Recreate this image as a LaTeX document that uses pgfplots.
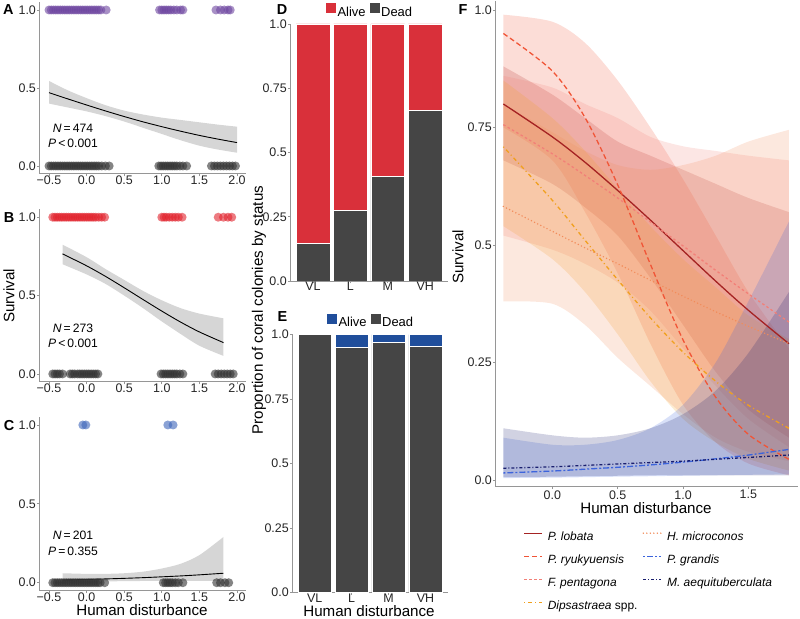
\documentclass[border=0pt]{standalone}
\usepackage{fontspec}
\setmainfont{Liberation Sans}
\usepackage{pgfplots}
\usepackage{pgfplotstable}
\pgfplotsset{compat=1.18}
\usepgfplotslibrary{fillbetween}

\definecolor{axgray}{RGB}{150,150,150}
\definecolor{ptgray}{RGB}{50,50,50}
\definecolor{purpA}{RGB}{110,70,160}
\definecolor{redB}{RGB}{225,35,45}
\definecolor{blueC}{RGB}{60,100,185}
\definecolor{aliveD}{RGB}{217,48,58}
\definecolor{aliveE}{RGB}{32,78,155}
\definecolor{deadC}{RGB}{69,69,69}
\definecolor{lobC}{RGB}{165,35,35}
\definecolor{ryuC}{RGB}{240,85,55}
\definecolor{penC}{RGB}{242,128,120}
\definecolor{dipC}{RGB}{240,160,30}
\definecolor{micC}{RGB}{242,140,90}
\definecolor{graC}{RGB}{60,100,220}
\definecolor{aeqC}{RGB}{25,30,110}

\newcommand{\tickfont}{\fontsize{12.5}{14}\selectfont}
\newcommand{\axtitle}{\fontsize{15.2}{17}\selectfont}
\newcommand{\letterfont}{\fontsize{14.5}{16}\selectfont\bfseries}
\newcommand{\statfont}{\fontsize{12.2}{14}\selectfont}
\tikzset{ttl/.style={font=\axtitle, inner sep=1bp}}

% fitted survival curves, panels A-C
\pgfplotstableread{
x     est    lo     hi
-0.5  0.470  0.400  0.545
-0.25 0.430  0.375  0.485
0     0.391  0.350  0.435
0.25  0.353  0.320  0.390
0.5   0.317  0.285  0.355
0.75  0.283  0.245  0.330
1.0   0.252  0.205  0.310
1.25  0.223  0.165  0.295
1.5   0.196  0.130  0.280
1.75  0.172  0.105  0.265
2.0   0.150  0.085  0.252
}\Atab
\pgfplotstableread{
x     est    lo     hi
-0.32 0.766  0.700  0.825
0     0.690  0.635  0.745
0.25  0.623  0.575  0.670
0.5   0.550  0.500  0.600
0.75  0.475  0.420  0.530
1.0   0.401  0.335  0.470
1.25  0.331  0.255  0.420
1.5   0.268  0.180  0.385
1.82  0.200  0.115  0.355
}\Btab
\pgfplotstableread{
x     est    lo     hi
-0.32 0.017  0.005  0.060
0     0.0205 0.007  0.056
0.25  0.024  0.008  0.056
0.5   0.0277 0.010  0.060
0.75  0.032  0.011  0.070
1.0   0.0373 0.012  0.090
1.25  0.043  0.012  0.120
1.5   0.0499 0.012  0.175
1.82  0.060  0.011  0.290
}\Ctab
% panel F, one estimate / lower / upper per species
\pgfplotstableread{
x      lobE  lobL lobU  ryuE  ryuL  ryuU  penE  penL penU  dipE  dipL  dipU  micE  micL  micU  graE  graL  graU  aeqE  aeqL  aeqU
-0.375 0.800 0.68 0.88  0.950 0.75  0.99  0.756 0.52 0.86  0.709 0.54  0.85  0.582 0.38  0.80  0.015 0.004 0.090 0.025 0.006 0.110
0      0.730 0.63 0.82  0.870 0.68  0.975 0.694 0.49 0.835 0.595 0.47  0.77  0.529 0.375 0.74  0.019 0.005 0.075 0.028 0.007 0.095
0.25   0.676 0.58 0.77  0.771 0.57  0.93  0.648 0.46 0.80  0.510 0.40  0.70  0.494 0.33  0.70  0.023 0.006 0.075 0.031 0.008 0.090
0.5    0.616 0.52 0.72  0.628 0.44  0.85  0.600 0.42 0.77  0.426 0.31  0.62  0.460 0.26  0.67  0.027 0.007 0.085 0.034 0.009 0.095
0.75   0.553 0.43 0.69  0.459 0.29  0.75  0.549 0.36 0.73  0.345 0.21  0.54  0.425 0.20  0.66  0.032 0.008 0.110 0.037 0.010 0.110
1.0    0.488 0.33 0.66  0.298 0.16  0.64  0.498 0.28 0.71  0.272 0.13  0.47  0.391 0.14  0.67  0.038 0.009 0.160 0.040 0.010 0.140
1.25   0.423 0.23 0.63  0.176 0.08  0.52  0.446 0.20 0.70  0.210 0.08  0.41  0.358 0.09  0.69  0.045 0.010 0.250 0.044 0.010 0.190
1.5    0.361 0.15 0.60  0.097 0.035 0.40  0.396 0.13 0.69  0.159 0.045 0.35  0.327 0.06  0.72  0.053 0.011 0.380 0.048 0.010 0.270
1.81   0.290 0.09 0.57  0.044 0.01  0.28  0.336 0.07 0.68  0.110 0.02  0.30  0.290 0.04  0.745 0.065 0.012 0.550 0.053 0.010 0.400
}\Ftab

\pgfplotsset{
  gg/.style={
    scale only axis,
    axis x line*=bottom, axis y line*=left,
    axis line style={axgray, line width=0.7bp},
    every tick/.style={axgray, line width=0.7bp},
    tick align=outside, major tick length=2.5bp,
    tick label style={font=\tickfont, text=black!85},
    /pgf/number format/assume math mode=true,
    xticklabel style={inner sep=1bp},
    yticklabel style={inner sep=1bp},
  },
  dots/.style={only marks, color=#1, mark=*, mark size=4.5bp,
    mark options={draw opacity=0, fill=#1, fill opacity=0.6}},
  band/.style={fill=#1, fill opacity=0.2, draw=none, forget plot},
  fline/.style={line width=1.3bp, smooth, forget plot},
  xAC/.style={xmin=-0.625, xmax=2.125, ymin=-0.05, ymax=1.05,
    width=206.8bp,
    xtick={-0.5,0,0.5,1,1.5,2}, xticklabels={−0.5,0.0,0.5,1.0,1.5,2.0},
    xticklabel style={yshift=1.5bp},
    ytick={0,0.5,1}, yticklabels={0.0,0.5,1.0}},
  bars/.style={ybar stacked, bar width=0.9, xmin=0.4, xmax=4.6, ymin=0, ymax=1,
    xtick={1,2,3,4}, xticklabels={VL,L,M,VH},
    xticklabel style={yshift=2.5bp},
    ytick={0,0.25,0.5,0.75,1}, yticklabels={0.0,0.25,0.5,0.75,1.0},
    reverse legend, legend columns=2,
    legend image code/.code={\fill[##1] (0bp,-1bp) rectangle (11bp,10bp);},
    legend style={at={(0.5,1)}, anchor=south, yshift=5bp, draw=none, fill=none,
      inner sep=0pt, font=\fontsize{13}{15}\selectfont,
      nodes={inner sep=1bp},
      /tikz/every even column/.append style={column sep=2bp}}},
}

\begin{document}
\begin{tikzpicture}[x=1bp, y=1bp]

% ---------- A ----------
\begin{axis}[gg, xAC, at={(39.6bp,445.2bp)}, anchor=south west, height=171.6bp]
  \addplot[dots=purpA] coordinates {
    (-0.50,1)(-0.47,1)(-0.44,1)(-0.41,1)(-0.38,1)(-0.35,1)(-0.32,1)(-0.29,1)(-0.26,1)(-0.23,1)
    (-0.20,1)(-0.17,1)(-0.14,1)(-0.11,1)(-0.08,1)(-0.05,1)(-0.02,1)(0.01,1)(0.04,1)(0.07,1)
    (0.10,1)(0.13,1)(0.16,1)(0.19,1)(0.26,1)
    (0.97,1)(1.00,1)(1.03,1)(1.06,1)(1.09,1)(1.12,1)(1.16,1)(1.20,1)(1.25,1)(1.28,1)
    (1.72,1)(1.78,1)(1.83,1)(1.88,1)(1.91,1)};
  \addplot[dots=ptgray] coordinates {
    (-0.50,0)(-0.47,0)(-0.44,0)(-0.41,0)(-0.38,0)(-0.35,0)(-0.32,0)(-0.29,0)(-0.26,0)(-0.23,0)
    (-0.20,0)(-0.17,0)(-0.14,0)(-0.11,0)(-0.08,0)(-0.05,0)(-0.02,0)(0.01,0)(0.04,0)(0.07,0)
    (0.10,0)(0.13,0)(0.16,0)(0.20,0)(0.25,0)(0.30,0)
    (0.96,0)(0.99,0)(1.02,0)(1.05,0)(1.08,0)(1.11,0)(1.14,0)(1.17,0)(1.20,0)(1.24,0)(1.28,0)(1.33,0)
    (1.66,0)(1.70,0)(1.74,0)(1.78,0)(1.82,0)(1.86,0)(1.90,0)(1.94,0)(1.98,0)};
  \addplot[name path=aU, draw=none, smooth] table[x=x, y=hi] {\Atab};
  \addplot[name path=aL, draw=none, smooth] table[x=x, y=lo] {\Atab};
  \addplot[fill=black!16, draw=none] fill between[of=aU and aL];
  \addplot[black, line width=0.9bp, smooth] table[x=x, y=est] {\Atab};
\end{axis}

% ---------- B ----------
\begin{axis}[gg, xAC, at={(39.6bp,237.2bp)}, anchor=south west, height=172.4bp]
  \addplot[dots=redB] coordinates {
    (-0.45,1)(-0.42,1)(-0.39,1)(-0.36,1)(-0.33,1)(-0.30,1)(-0.27,1)(-0.24,1)(-0.21,1)(-0.18,1)
    (-0.15,1)(-0.12,1)(-0.09,1)(-0.06,1)(-0.03,1)(0.00,1)(0.03,1)(0.06,1)(0.09,1)(0.12,1)
    (0.16,1)(0.20,1)(0.24,1)
    (1.00,1)(1.03,1)(1.06,1)(1.10,1)(1.14,1)(1.18,1)(1.22,1)(1.27,1)
    (1.75,1)(1.82,1)(1.88,1)(1.93,1)};
  \addplot[dots=ptgray] coordinates {
    (-0.45,0)(-0.42,0)(-0.39,0)(-0.36,0)(-0.32,0)(-0.22,0)(-0.19,0)(-0.16,0)(-0.12,0)(-0.09,0)
    (-0.06,0)(-0.03,0)(0.00,0)(0.03,0)(0.06,0)(0.09,0)(0.12,0)(0.15,0)
    (0.99,0)(1.02,0)(1.05,0)(1.08,0)(1.11,0)(1.14,0)(1.17,0)(1.20,0)(1.24,0)(1.28,0)
    (1.71,0)(1.75,0)(1.79,0)(1.83,0)(1.87,0)(1.91,0)(1.95,0)};
  \addplot[name path=bU, draw=none, smooth] table[x=x, y=hi] {\Btab};
  \addplot[name path=bL, draw=none, smooth] table[x=x, y=lo] {\Btab};
  \addplot[fill=black!16, draw=none] fill between[of=bU and bL];
  \addplot[black, line width=0.9bp, smooth] table[x=x, y=est] {\Btab};
\end{axis}

% ---------- C ----------
\begin{axis}[gg, xAC, at={(39.6bp,28.4bp)}, anchor=south west, height=173.5bp]
  \addplot[dots=blueC] coordinates {(-0.05,1)(-0.01,1)(1.08,1)(1.15,1)};
  \addplot[name path=cU, draw=none, smooth] table[x=x, y=hi] {\Ctab};
  \addplot[name path=cL, draw=none, smooth] table[x=x, y=lo] {\Ctab};
  \addplot[fill=black!16, draw=none] fill between[of=cU and cL];
  \addplot[dots=ptgray] coordinates {
    (-0.45,0)(-0.42,0)(-0.39,0)(-0.36,0)(-0.33,0)(-0.30,0)(-0.27,0)(-0.24,0)(-0.21,0)(-0.18,0)
    (-0.15,0)(-0.12,0)(-0.09,0)(-0.06,0)(-0.03,0)(0.00,0)(0.03,0)(0.06,0)(0.09,0)(0.12,0)
    (0.15,0)(0.18,0)(0.24,0)
    (1.02,0)(1.05,0)(1.08,0)(1.11,0)(1.14,0)(1.18,0)(1.22,0)(1.28,0)
    (1.73,0)(1.78,0)(1.84,0)(1.89,0)};
  \addplot[black, line width=0.9bp, smooth] table[x=x, y=est] {\Ctab};
\end{axis}

% ---------- D ----------
\begin{axis}[gg, bars, at={(290.5bp,338bp)}, anchor=south west, width=157.2bp, height=257bp]
  \addplot[fill=deadC, draw=white, line width=0.5bp] coordinates {(1,0.145)(2,0.274)(3,0.406)(4,0.663)};
  \addplot[fill=aliveD, draw=white, line width=0.5bp] coordinates {(1,0.855)(2,0.726)(3,0.594)(4,0.337)};
  \legend{Dead,Alive}
\end{axis}

% ---------- E ----------
\begin{axis}[gg, bars, at={(292.5bp,26.3bp)}, anchor=south west, width=155.2bp, height=258bp]
  \addplot[fill=deadC, draw=white, line width=0.5bp] coordinates {(1,1.0)(2,0.951)(3,0.970)(4,0.955)};
  \addplot[fill=aliveE, draw=white, line width=0.5bp] coordinates {(1,0.0)(2,0.049)(3,0.030)(4,0.045)};
  \legend{Dead,Alive}
\end{axis}

% ---------- F ----------
\begin{axis}[gg, at={(495.5bp,132.3bp)}, anchor=south west, width=302.8bp, height=486.1bp,
  xmin=-0.435, xmax=1.882, ymin=-0.0143, ymax=1.02,
  xtick={0,0.5,1,1.5}, xticklabels={0.0,0.5,1.0,1.5},
  ytick={0,0.25,0.5,0.75,1}, yticklabels={0.0,0.25,0.5,0.75,1.0},
  legend columns=2, legend cell align=left,
  legend image code/.code={\draw[#1] (0bp,4bp) -- (17.7bp,4bp); \path (21bp,4bp);},
  legend style={at={(0.0918,-0.087)}, anchor=north west, draw=none, fill=none,
    inner sep=0pt, row sep=7bp, font=\fontsize{12}{14}\selectfont,
    nodes={text height=9bp, text depth=3bp, inner sep=2bp},
    /tikz/every even column/.append style={column sep=3bp}}]
  \addplot[name path=lobU, draw=none, smooth, forget plot] table[x=x, y=lobU] {\Ftab};
  \addplot[name path=lobL, draw=none, smooth, forget plot] table[x=x, y=lobL] {\Ftab};
  \addplot[band=lobC] fill between[of=lobU and lobL];
  \addplot[name path=ryuU, draw=none, smooth, forget plot] table[x=x, y=ryuU] {\Ftab};
  \addplot[name path=ryuL, draw=none, smooth, forget plot] table[x=x, y=ryuL] {\Ftab};
  \addplot[band=ryuC] fill between[of=ryuU and ryuL];
  \addplot[name path=penU, draw=none, smooth, forget plot] table[x=x, y=penU] {\Ftab};
  \addplot[name path=penL, draw=none, smooth, forget plot] table[x=x, y=penL] {\Ftab};
  \addplot[band=penC] fill between[of=penU and penL];
  \addplot[name path=dipU, draw=none, smooth, forget plot] table[x=x, y=dipU] {\Ftab};
  \addplot[name path=dipL, draw=none, smooth, forget plot] table[x=x, y=dipL] {\Ftab};
  \addplot[band=dipC] fill between[of=dipU and dipL];
  \addplot[name path=micU, draw=none, smooth, forget plot] table[x=x, y=micU] {\Ftab};
  \addplot[name path=micL, draw=none, smooth, forget plot] table[x=x, y=micL] {\Ftab};
  \addplot[band=micC] fill between[of=micU and micL];
  \addplot[name path=graU, draw=none, smooth, forget plot] table[x=x, y=graU] {\Ftab};
  \addplot[name path=graL, draw=none, smooth, forget plot] table[x=x, y=graL] {\Ftab};
  \addplot[band=graC] fill between[of=graU and graL];
  \addplot[name path=aeqU, draw=none, smooth, forget plot] table[x=x, y=aeqU] {\Ftab};
  \addplot[name path=aeqL, draw=none, smooth, forget plot] table[x=x, y=aeqL] {\Ftab};
  \addplot[band=aeqC] fill between[of=aeqU and aeqL];
  % fitted lines
  \addplot[fline, lobC] table[x=x, y=lobE] {\Ftab};
  \addplot[fline, ryuC, dash pattern=on 5bp off 3bp] table[x=x, y=ryuE] {\Ftab};
  \addplot[fline, penC, dash pattern=on 2.5bp off 2.5bp] table[x=x, y=penE] {\Ftab};
  \addplot[fline, dipC, dash pattern=on 1bp off 3bp on 4bp off 3bp] table[x=x, y=dipE] {\Ftab};
  \addplot[fline, micC, line width=1.6bp, line cap=round, dash pattern=on 0bp off 3.5bp] table[x=x, y=micE] {\Ftab};
  \addplot[fline, graC, dash pattern=on 2bp off 2bp on 6bp off 2bp] table[x=x, y=graE] {\Ftab};
  \addplot[fline, aeqC, dash pattern=on 3bp off 2bp on 1bp off 2bp] table[x=x, y=aeqE] {\Ftab};
  % legend, filled row by row
  \addlegendimage{lobC, line width=1.3bp}
  \addlegendentry{\textit{P. lobata}}
  \addlegendimage{micC, line width=1.6bp, line cap=round, dash pattern=on 0bp off 3.5bp}
  \addlegendentry{\textit{H. microconos}}
  \addlegendimage{ryuC, line width=1.3bp, dash pattern=on 5bp off 3bp}
  \addlegendentry{\textit{P. ryukyuensis}}
  \addlegendimage{graC, line width=1.3bp, dash pattern=on 2bp off 2bp on 6bp off 2bp}
  \addlegendentry{\textit{P. grandis}}
  \addlegendimage{penC, line width=1.3bp, dash pattern=on 2.5bp off 2.5bp}
  \addlegendentry{\textit{F. pentagona}}
  \addlegendimage{aeqC, line width=1.3bp, dash pattern=on 3bp off 2bp on 1bp off 2bp}
  \addlegendentry{\textit{M. aequituberculata}}
  \addlegendimage{dipC, line width=1.3bp, dash pattern=on 1bp off 3bp on 4bp off 3bp}
  \addlegendentry{\textit{Dipsastraea} spp.}
\end{axis}

% ---------- labels ----------
\node[font=\letterfont] at (8.3,609) {A};
\node[font=\letterfont] at (9,401) {B};
\node[font=\letterfont] at (9,193.5) {C};
\node[font=\letterfont] at (282,609) {D};
\node[font=\letterfont] at (282.5,302.3) {E};
\node[font=\letterfont] at (463,609) {F};

\node[font=\statfont] at (73,491) {\textit{N}\,=\,474};
\node[font=\statfont] at (73,476) {\textit{P}\,<\,0.001};
\node[font=\statfont] at (73,291) {\textit{N}\,=\,273};
\node[font=\statfont] at (73,276) {\textit{P}\,<\,0.001};
\node[font=\statfont] at (73,84) {\textit{N}\,=\,201};
\node[font=\statfont] at (73,68) {\textit{P}\,=\,0.355};

\node[ttl, rotate=90] at (9,323) {Survival};
\node[ttl] at (142,8.5) {Human disturbance};
\node[ttl, rotate=90] at (259,309) {Proportion of coral colonies by status};
\node[ttl] at (369,8) {Human disturbance};
\node[ttl, rotate=90] at (458,362) {Survival};
\node[ttl] at (646,110.7) {Human disturbance};

\pgfresetboundingbox
\path[use as bounding box] (0,0) rectangle (800,619);
\end{tikzpicture}
\end{document}
